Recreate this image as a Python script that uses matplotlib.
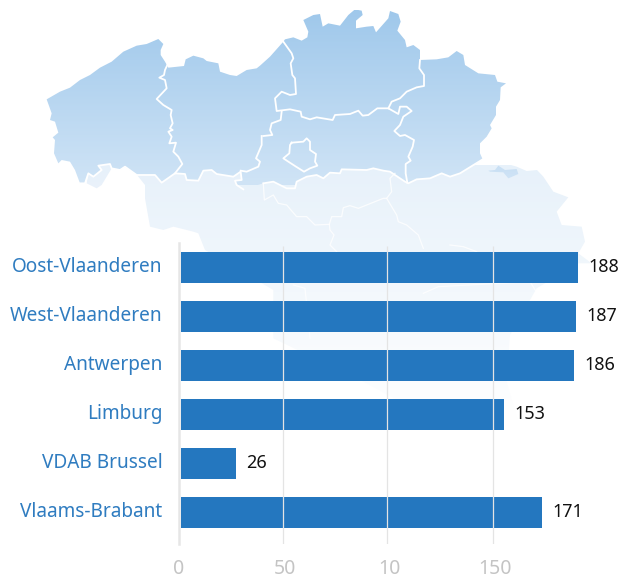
import numpy as np
from matplotlib import pyplot as plt
from matplotlib.colors import LinearSegmentedColormap
from matplotlib.patches import Polygon

# chart values
regions = ['Oost-Vlaanderen', 'West-Vlaanderen', 'Antwerpen', 'Limburg', 'VDAB Brussel', 'Vlaams-Brabant']
counts = [188, 187, 186, 153, 26, 171]
tick_pos = [-0.8, 49.5, 99, 148.8]
tick_labels = ['0', '50', '10', '150']
grid_pos = [48.5, 97.5, 148]

# map outlines
west_coast = [(50, 298), (90, 275), (120, 263), (150, 240), (180, 225), (210, 203), (245, 185), (280, 155),
              (320, 137), (350, 132), (385, 117), (400, 132), (392, 150), (392, 165), (405, 185), (415, 203),
              (462, 198), (467, 178), (490, 167), (520, 175), (530, 183), (565, 190), (570, 215), (600, 225),
              (620, 228), (650, 210), (680, 205), (690, 197)]
north_border = [(30, 170), (70, 125), (75, 118), (100, 112), (125, 122), (142, 112), (145, 95), (130, 60),
                (160, 45), (180, 42), (188, 80), (205, 70), (240, 77), (265, 45), (285, 28), (305, 32),
                (308, 45), (288, 62), (288, 85), (320, 80), (340, 78), (348, 97), (385, 55), (390, 33),
                (415, 42), (422, 65), (412, 92), (435, 120), (440, 142), (460, 135), (480, 150), (480, 180),
                (530, 178), (565, 172), (590, 153), (610, 165), (615, 195), (655, 220), (705, 225), (712, 245),
                (738, 250), (722, 262), (720, 300), (708, 320), (708, 345), (690, 375), (695, 385), (680, 410),
                (660, 430), (660, 460), (668, 478)]
south_east = [(668, 478), (600, 520), (570, 530), (545, 520), (510, 535), (470, 538), (445, 550), (435, 545),
              (390, 515), (370, 512), (340, 505), (320, 510), (245, 508), (240, 520), (210, 518), (190, 535),
              (170, 525), (140, 530), (110, 545), (105, 565), (80, 565), (40, 545), (10, 550)]
south_west = [(640, 568), (620, 555), (615, 542), (635, 540), (632, 515), (610, 530), (560, 522), (545, 510),
              (520, 512), (505, 542), (470, 540), (465, 522), (435, 520), (395, 548), (375, 525), (320, 525),
              (285, 500), (270, 510), (245, 505), (240, 492), (205, 497), (215, 510), (190, 530), (175, 520),
              (165, 550), (150, 550)]
west_side = [(135, 510), (120, 485), (95, 480), (85, 490), (72, 460), (75, 420), (68, 412), (85, 398), (75, 365),
             (60, 360), (65, 340)]
west_oost = [(412, 195), (405, 210), (402, 225), (388, 233), (405, 240), (410, 265), (380, 297), (400, 315),
             (425, 330), (422, 345), (428, 370), (420, 385), (428, 390), (415, 395), (425, 410), (418, 430),
             (438, 428), (430, 455), (445, 470), (457, 492), (435, 520)]
oost_vb_west = [(695, 408), (695, 435), (678, 475), (690, 485), (685, 500), (650, 515), (632, 512)]
oost_vb_east = [(65, 335), (62, 360), (35, 370), (30, 390), (37, 405), (10, 408)]
antwerp_border = [(70, 125), (95, 160), (100, 175), (92, 190), (97, 225), (105, 235), (108, 282), (90, 285),
                  (65, 275), (45, 295), (50, 333), (90, 328), (122, 335), (125, 350), (150, 358), (170, 352),
                  (218, 360), (225, 345), (270, 342), (295, 332), (308, 347), (325, 345), (352, 325), (385, 325),
                  (415, 342), (420, 320), (440, 320), (455, 333), (430, 350), (420, 375), (403, 393), (420, 408),
                  (435, 405), (462, 420), (458, 440), (445, 470), (452, 482), (437, 492), (437, 520), (442, 548)]
limburg_border = [(480, 180), (478, 205), (492, 225), (492, 258), (470, 262), (440, 275), (420, 295), (395, 305),
                  (385, 325)]
brussels = [(95, 428), (130, 425), (140, 415), (150, 425), (150, 450), (168, 462), (165, 485), (172, 497),
            (150, 505), (132, 515), (105, 498), (85, 485), (70, 475), (88, 460), (90, 435), (95, 428)]
voeren = [(685, 512), (705, 510), (715, 497), (735, 510), (770, 507), (775, 522), (745, 535), (730, 517), (690, 515)]
comines = [(175, 520), (205, 497), (240, 492), (245, 505), (215, 555), (200, 565), (170, 550)]
wallonia = [(21, -20), (21, 30), (45, 60), (45, 100), (60, 185), (100, 195), (130, 185), (190, 200), (205, 205),
            (225, 255), (430, 375), (430, 520), (700, 650), (980, 800), (1000, 850), (1100, 830), (1170, 790),
            (1130, 650), (1140, 510), (1220, 370), (1345, 295), (1385, 295), (1345, 265), (1365, 230), (1355, 185),
            (1295, 180), (1280, 140), (1315, 97), (1270, 80), (1240, 35), (1221, 15), (1190, 18), (1160, 5), (1075, -20)]
wallonia_lines = [[(400, 55), (403, 105), (430, 90), (445, 115), (470, 120), (500, 155), (530, 155), (555, 180),
                   (598, 178), (605, 155), (635, 155), (640, 128), (660, 122), (685, 130), (760, 100), (770, 100),
                   (785, 80), (780, 40), (795, 25)],
                  [(770, 100), (800, 150), (805, 170), (830, 180), (865, 210), (880, 250)],
                  [(598, 178), (600, 195), (612, 210), (600, 240), (620, 260)],
                  [(960, 240), (1000, 245), (1040, 260)],
                  [(490, 360), (525, 370), (540, 520)],
                  [(880, 385), (925, 365), (1200, 350), (1225, 390), (1215, 410)]]


# crops were taken at 3x, with these top left corners
def crop_west(pts):
    return [(30 + x / 3, y / 3) for x, y in pts]


def crop_east(pts):
    return [(260 + x / 3, y / 3) for x, y in pts]


def crop_south(pts):
    return [(130 + x / 3, 165 + y / 3) for x, y in pts]


plt.rcParams['font.family'] = ['Noto Sans', 'DejaVu Sans']
fig = plt.figure(figsize=(6.2, 5.8), dpi=100)

# map behind the chart, in pixels of the picture
bg = fig.add_axes([0, 0, 1, 1])
bg.set_xlim(0, 620)
bg.set_ylim(580, 0)
bg.axis('off')


def fill_gradient(pts, top, bottom, y0, y1):
    patch = Polygon(pts, closed=True, facecolor='none', edgecolor='none', transform=bg.transData)
    bg.add_patch(patch)
    cmap = LinearSegmentedColormap.from_list('map', [top, bottom])
    img = bg.imshow(np.linspace(0, 1, 256).reshape(-1, 1), cmap=cmap, aspect='auto',
                    extent=(0, 620, y1, y0), interpolation='bilinear')
    img.set_clip_path(patch)


flanders = (crop_west(west_coast) + crop_east(north_border) + crop_east(south_east)
            + crop_west(south_west) + crop_west(west_side))

fill_gradient(crop_south(wallonia), '#e7f1fa', '#ffffff', 165, 420)
fill_gradient(crop_west(comines), '#e7f1fa', '#eaf2fb', 165, 190)
fill_gradient(flanders, '#9fc8eb', '#d0e4f6', 10, 185)
fill_gradient(crop_east(voeren), '#c8dff4', '#d0e4f6', 165, 180)

dark_lines = [crop_west(west_oost), crop_west(oost_vb_west), crop_east(oost_vb_east), crop_east(antwerp_border),
              crop_east(limburg_border), crop_east(brussels), crop_east(south_east), crop_west(south_west)]
for line in dark_lines:
    xs, ys = zip(*line)
    bg.plot(xs, ys, color='white', lw=1.3, solid_joinstyle='round')
for line in wallonia_lines:
    xs, ys = zip(*crop_south(line))
    bg.plot(xs, ys, color='white', lw=0.9, alpha=0.8, solid_joinstyle='round')
bg.set_xlim(0, 620)
bg.set_ylim(580, 0)

# bars on top
ax = fig.add_axes([179 / 620, (580 - 544) / 580, 421 / 620, 301 / 580])
ax.patch.set_alpha(0)
y = list(range(len(regions)))
ax.barh(y, counts, height=31 / 49, color='#2477bf', zorder=2)
ax.vlines(grid_pos, 0, 0.99, transform=ax.get_xaxis_transform(), color='#e4e4e4', lw=0.9, zorder=3)
ax.set_xlim(-0.8, 198.5)
ax.set_ylim(5.643, -0.5)

ax.set_yticks(y)
ax.set_yticklabels(regions, color='#2f7cc0', fontsize=13.7, va='center')
ax.set_xticks(tick_pos)
ax.set_xticklabels(tick_labels, color='#c4c4c4', fontsize=14)
ax.tick_params(axis='y', length=0, pad=12)
ax.tick_params(axis='x', length=0, pad=11)

for s in ['top', 'right', 'bottom']:
    ax.spines[s].set_visible(False)
ax.spines['left'].set_color('#e6e6e6')
ax.spines['left'].set_linewidth(1.8)

for yy, c in zip(y, counts):
    ax.annotate(str(c), (c, yy), xytext=(7.5, 0), textcoords='offset points', va='center',
                color='#111111', fontsize=13)

plt.savefig('out.png', dpi=100)
plt.close()
